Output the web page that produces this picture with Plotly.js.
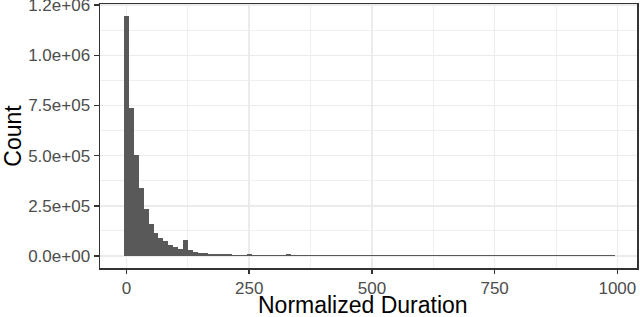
<!DOCTYPE html>
<html>
<head>
<meta charset="utf-8">
<script src="https://cdn.plot.ly/plotly-3.0.1.min.js"></script>
<style>
html,body{margin:0;padding:0;background:#fff;}
#chart{width:640px;height:317px;}
</style>
</head>
<body>
<div id="chart"></div>
<script>
// Histogram bin centers (Normalized Duration, bin width 10)
const binCenters = [
  0,10,20,30,40,50,60,70,80,90,
  100,110,120,130,140,150,160,170,180,190,
  200,210,220,230,240,250,260,270,280,290,
  300,310,320,330,340,350,360,370,380,390,
  400,410,420,430,440,450,460,470,480,490,
  500,510,520,530,540,550,560,570,580,590,
  600,610,620,630,640,650,660,670,680,690,
  700,710,720,730,740,750,760,770,780,790,
  800,810,820,830,840,850,860,870,880,890,
  900,910,920,930,940,950,960,970,980,990
];
// Counts per bin
const counts = [
  1196000,739000,505000,341000,236000,161000,117000,92000,74000,57000,
  45000,33000,82000,28000,20000,16000,15000,11000,10000,9000,
  10000,8000,7000,7000,6500,8000,6000,6000,6000,5500,
  5500,5500,5500,9000,5500,5000,5000,5000,5000,3500,
  3500,3500,3500,3500,3500,3500,3500,3500,3500,3500,
  3500,3500,3500,3500,3500,3500,3500,3500,3500,3500,
  3500,3500,3500,3500,3500,3500,3500,3500,3500,3500,
  3500,3500,3500,3500,3500,3500,3500,3500,3500,3500,
  3500,3500,3500,3500,3500,3500,3500,3500,3500,3500,
  3500,3500,3500,3500,3500,3500,3500,3500,3500,3500
];
const binWidth = 10;
const xTitle = "Normalized Duration";
const yTitle = "Count";
const xTickVals = [0,250,500,750,1000];
const xTickText = ["0","250","500","750","1000"];
const xMinorVals = [125,375,625,875];
const yTickVals = [0,250000,500000,750000,1000000,1250000];
const yTickText = ["0.0e+00","2.5e+05","5.0e+05","7.5e+05","1.0e+06","1.2e+06"];
const yMinorVals = [125000,375000,625000,875000,1125000];

const trace = {
  type: "bar",
  x: binCenters,
  y: counts,
  width: binWidth,
  marker: {color: "#595959", line: {width: 0}},
  hoverinfo: "skip"
};

const gridColor = "#EBEBEB";
const darkLine = "#333333";
const tickFont = {family: "Liberation Sans, Arial, sans-serif", size: 17, color: "#4D4D4D"};
const titleFont = {family: "Liberation Sans, Arial, sans-serif", size: 23, color: "#000000"};

const layout = {
  width: 640,
  height: 317,
  margin: {l: 100, r: 3, t: 4, b: 49},
  paper_bgcolor: "#ffffff",
  plot_bgcolor: "#ffffff",
  bargap: 0,
  showlegend: false,
  xaxis: {
    range: [-54, 1040],
    tickvals: xTickVals,
    ticktext: xTickText,
    ticks: "outside",
    ticklen: 4,
    tickwidth: 1.5,
    tickcolor: darkLine,
    tickfont: tickFont,
    showgrid: true,
    gridcolor: gridColor,
    gridwidth: 1.6,
    minor: {tickvals: xMinorVals, showgrid: true, gridcolor: gridColor, gridwidth: 0.8, ticks: ""},
    zeroline: false,
    showline: true,
    mirror: true,
    linecolor: darkLine,
    linewidth: 1.5,
    automargin: false
  },
  yaxis: {
    range: [-59800, 1255800],
    tickvals: yTickVals,
    ticktext: yTickText,
    ticks: "outside",
    ticklen: 5,
    tickwidth: 1.5,
    tickcolor: darkLine,
    tickfont: tickFont,
    ticklabeloverflow: "allow",
    showgrid: true,
    gridcolor: gridColor,
    gridwidth: 1.6,
    minor: {tickvals: yMinorVals, showgrid: true, gridcolor: gridColor, gridwidth: 0.8, ticks: ""},
    zeroline: false,
    showline: true,
    mirror: true,
    linecolor: darkLine,
    linewidth: 1.5,
    title: {text: yTitle, font: titleFont, standoff: 6},
    automargin: false
  },
  annotations: [{
    text: xTitle,
    font: titleFont,
    xref: "paper", yref: "paper",
    x: 0.49, y: -0.142,
    xanchor: "center", yanchor: "middle",
    showarrow: false,
    borderpad: 0
  }]
};

Plotly.newPlot("chart", [trace], layout, {staticPlot: true, displayModeBar: false});
</script>
</body>
</html>
